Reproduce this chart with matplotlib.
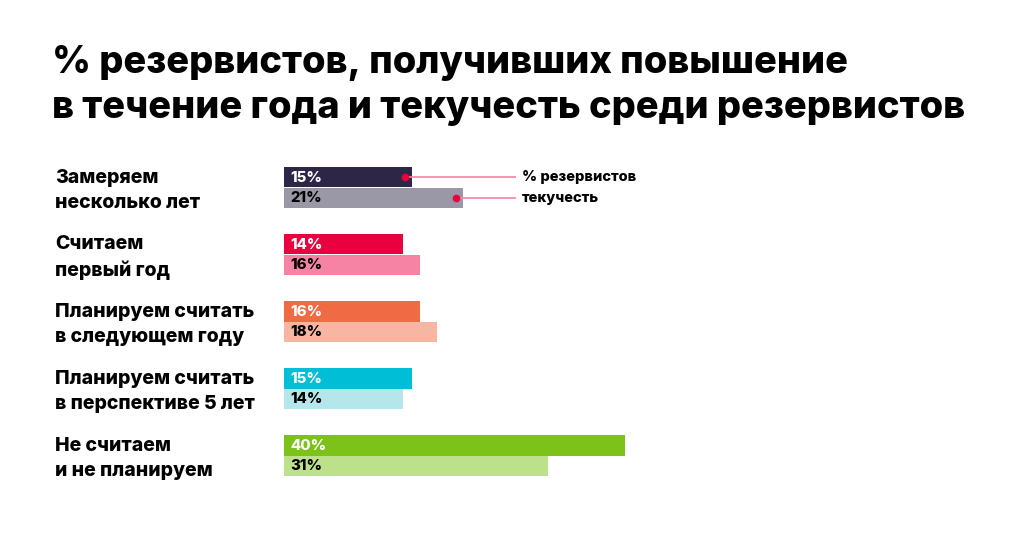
import matplotlib.pyplot as plt
import matplotlib.transforms as mtransforms

plt.rcParams['font.family'] = ['Inter', 'DejaVu Sans']

# data
categories = ['Замеряем\nнесколько лет', 'Считаем\nпервый год',
              'Планируем считать\nв следующем году',
              'Планируем считать\nв перспективе 5 лет',
              'Не считаем\nи не планируем']
promoted = [15, 14, 16, 15, 40]
turnover = [21, 16, 18, 14, 31]
dark_colors = ['#2e2647', '#eb003f', '#f06a44', '#00bed6', '#7cc219']
light_colors = ['#9a98a7', '#f683a3', '#f7b6a1', '#b5e6eb', '#bde08b']
legend_labels = ['% резервистов', 'текучесть']

W, H = 1024, 538
fig = plt.figure(figsize=(W / 100, H / 100), dpi=100)
fig.patch.set_facecolor('white')

ax_left = 284 / W
ax_right = 1017 / W
ax_top = 147.3 / H
ax_bottom = 495.7 / H
ax = fig.add_axes([ax_left, 1 - ax_bottom, ax_right - ax_left, ax_bottom - ax_top])
ax.set_xlim(0, 86)
ax.set_ylim(4.6, -0.6)
ax.axis('off')

h = 0.3
for i in range(len(categories)):
    ax.barh(i - h / 2, promoted[i], height=h, color=dark_colors[i], edgecolor='none')
    ax.barh(i + h / 2, turnover[i], height=h, color=light_colors[i], edgecolor='none')
    ax.text(0.7, i - h / 2 + 0.01, f'{promoted[i]}%', color='white', fontsize=10.8,
            fontweight='heavy', va='center', ha='left')
    ax.text(0.7, i + h / 2 + 0.01, f'{turnover[i]}%', color='black', fontsize=10.8,
            fontweight='heavy', va='center', ha='left')

# category labels
trans = mtransforms.blended_transform_factory(fig.transFigure, ax.transData)
for i, cat in enumerate(categories):
    fig.text(55 / W, i + 0.05, cat, transform=trans, fontsize=14, fontweight='heavy',
            va='center', ha='left', linespacing=1.5)

# legend callouts on first group
for j, (val, lab) in enumerate(zip([promoted[0], turnover[0]], legend_labels)):
    yv = -h / 2 if j == 0 else h / 2
    ax.plot([val - 0.8, 27.2], [yv, yv], color='#f683a3', lw=1.2, solid_capstyle='butt')
    ax.plot([val - 0.8], [yv], 'o', color='#eb003f', ms=4.5)
    ax.text(27.9, yv, lab, fontsize=10.5, fontweight='heavy', va='center', ha='left')

fig.text(52 / W, 1 - 45 / H, '% резервистов, получивших повышение\nв течение года и текучесть среди резервистов',
         fontsize=27.3, fontweight='heavy', va='top', ha='left', linespacing=1.33)

fig.savefig('out.png', dpi=100)
